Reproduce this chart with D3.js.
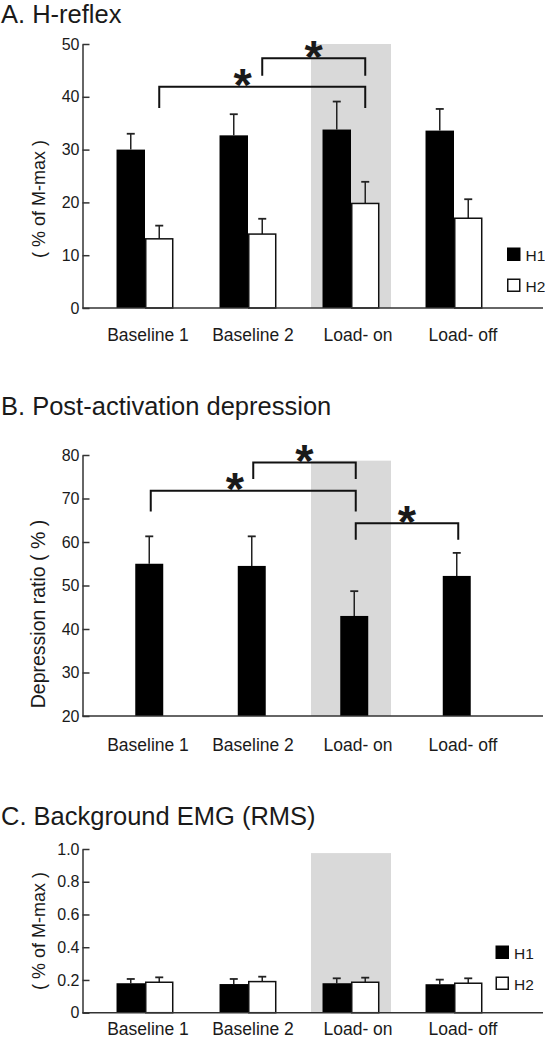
<!DOCTYPE html>
<html><head><meta charset="utf-8">
<script src="https://cdn.jsdelivr.net/npm/d3@7"></script>
<style>
body{margin:0;background:#fff}
svg{display:block}
text{font-family:"Liberation Sans",Arial,Helvetica,sans-serif;fill:#1a1a1a}
</style>
</head><body><svg id="c" width="545" height="1050"></svg>
<script>
// ---------------- data ----------------
const categories = ["Baseline 1", "Baseline 2", "Load- on", "Load- off"];
const seriesNames = ["H1", "H2"];

const hreflexH1    = [30.0, 32.7, 33.8, 33.6];
const hreflexH1Err = [3.0, 4.0, 5.3, 4.1];
const hreflexH2    = [13.1, 14.0, 19.8, 17.0];
const hreflexH2Err = [2.5, 2.9, 4.1, 3.6];
const hreflexTicks = [0, 10, 20, 30, 40, 50];

const depression      = [55.0, 54.5, 43.0, 52.2];
const depressionErr   = [6.3, 6.8, 5.7, 5.3];
const depressionTicks = [20, 30, 40, 50, 60, 70, 80];

const emgH1    = [0.180, 0.175, 0.180, 0.174];
const emgH1Err = [0.026, 0.031, 0.030, 0.028];
const emgH2    = [0.186, 0.190, 0.186, 0.180];
const emgH2Err = [0.030, 0.030, 0.028, 0.030];
const emgTicks = [0, 0.2, 0.4, 0.6, 0.8, 1.0];

// significance brackets: [from, to, bracket level, leg end] (data units)
const hreflexSig    = [["Baseline 1", "Load- on", 41.9, 37.9], ["Baseline 2", "Load- on", 47.3, 44.0]];
const depressionSig = [["Baseline 1", "Load- on", 71.8, 67.0], ["Baseline 2", "Load- on", 78.3, 74.5], ["Load- on", "Load- off", 64.3, 60.5]];

// ---------------- drawing ----------------
const svg = d3.select("#c");
const AXIS_X = 82.5, AXIS_END = 543;
const INK = "#1a1a1a";

const xGroup = d3.scaleBand().domain(categories).range([93.5, 505.5]).paddingInner(0.447).paddingOuter(0.2235);
const xSub = d3.scaleBand().domain(seriesNames).range([0, xGroup.bandwidth()]);
const xSingle = d3.scaleBand().domain(categories).range([98, 508]).paddingInner(0.727).paddingOuter(0.3635);
const xLabel = d3.scalePoint().domain(categories).range([148, 463]);

function panel(cfg) {
  const g = svg.append("g");
  const y = d3.scaleLinear().domain(cfg.domain).range([cfg.y0, cfg.yTop]);

  // title
  g.append("text").attr("x", 1).attr("y", cfg.titleY).attr("font-size", 25.5).text(cfg.title);

  // shading around Load- on
  const sc = xGroup("Load- on") + xGroup.bandwidth() / 2;
  g.append("rect").attr("x", sc - 40).attr("width", 80)
    .attr("y", y(cfg.shadeTop)).attr("height", cfg.y0 - y(cfg.shadeTop))
    .attr("fill", "#d9d9d9");

  // y axis
  const ax = g.append("g").attr("transform", `translate(${AXIS_X},0)`)
    .call(d3.axisLeft(y).tickValues(cfg.ticks).tickSize(-7).tickSizeOuter(0).tickPadding(3).tickFormat(cfg.fmt));
  ax.attr("font-family", null).attr("font-size", 16);
  ax.select(".domain").attr("stroke", "#333").attr("stroke-width", 1.5);
  ax.selectAll(".tick line").attr("stroke", "#333").attr("stroke-width", 1.5);
  ax.selectAll(".tick text").attr("font-size", 16).attr("fill", INK);

  // y label
  g.append("text").attr("transform", `translate(${cfg.ylabelX},${cfg.ylabelY}) rotate(-90)`)
    .attr("text-anchor", "middle").attr("font-size", cfg.ylabelSize).text(cfg.ylabel);

  // bars
  cfg.bars.forEach(b => {
    categories.forEach((c, i) => {
      const x0 = b.x(c), w = b.w;
      const v = b.values[i], e = b.errs[i];
      const cx = x0 + w / 2;
      g.append("line").attr("x1", cx).attr("x2", cx).attr("y1", y(v)).attr("y2", y(v + e))
        .attr("stroke", "#222").attr("stroke-width", 1.5);
      g.append("line").attr("x1", cx - 4).attr("x2", cx + 4).attr("y1", y(v + e)).attr("y2", y(v + e))
        .attr("stroke", "#222").attr("stroke-width", 1.8);
      if (b.fill === "#000") {
        g.append("rect").attr("x", x0).attr("y", y(v)).attr("width", w).attr("height", cfg.y0 - y(v)).attr("fill", "#000");
      } else {
        g.append("rect").attr("x", x0 + 0.75).attr("y", y(v)).attr("width", w - 1.5).attr("height", cfg.y0 - y(v))
          .attr("fill", "#fff").attr("stroke", "#111").attr("stroke-width", 1.5);
      }
    });
  });

  // x axis line
  g.append("line").attr("x1", AXIS_X).attr("x2", AXIS_END).attr("y1", cfg.y0).attr("y2", cfg.y0)
    .attr("stroke", "#333").attr("stroke-width", 1.5);

  // x labels
  categories.forEach(c => {
    g.append("text").attr("x", xLabel(c)).attr("y", cfg.labelY).attr("text-anchor", "middle")
      .attr("font-size", 17.5).text(c);
  });

  // brackets
  (cfg.sig || []).forEach((s, k) => {
    const x1 = cfg.sigX(s[0]), x2 = cfg.sigX(s[1]);
    g.append("path").attr("d", `M${x1},${y(s[3])}V${y(s[2])}H${x2}V${y(s[3])}`)
      .attr("fill", "none").attr("stroke", "#111").attr("stroke-width", 2);
    const f = cfg.starFrac[k];
    g.append("text").attr("x", x1 + f * (x2 - x1)).attr("y", y(s[2]) - 11.5 + 26)
      .attr("text-anchor", "middle").attr("font-size", 47).attr("font-weight", "bold").text("*");
  });

  // legend
  if (cfg.legend) {
    const L = cfg.legend;
    g.append("rect").attr("x", L.x).attr("y", L.y1).attr("width", 13.5).attr("height", 13.5).attr("fill", "#000");
    g.append("rect").attr("x", L.x + 0.75).attr("y", L.y2 + 0.75).attr("width", 12).attr("height", 12)
      .attr("fill", "#fff").attr("stroke", "#111").attr("stroke-width", 1.5);
    g.append("text").attr("x", L.x + 18.5).attr("y", L.y1 + 13).attr("font-size", 15.5).text(seriesNames[0]);
    g.append("text").attr("x", L.x + 18.5).attr("y", L.y2 + 13).attr("font-size", 15.5).text(seriesNames[1]);
  }
}

const h2Center = c => xGroup(c) + xSub("H2") + xSub.bandwidth() / 2;
const singleCenter = c => xSingle(c) + xSingle.bandwidth() / 2 + 1.5;

panel({
  title: "A. H-reflex", titleY: 23,
  domain: [0, 50], y0: 308, yTop: 44, ticks: hreflexTicks, fmt: d3.format("d"),
  ylabel: "( % of M-max )", ylabelX: 45, ylabelY: 199, ylabelSize: 18,
  shadeTop: 50, labelY: 341,
  bars: [
    {x: c => xGroup(c) + xSub("H1"), w: xSub.bandwidth(), values: hreflexH1, errs: hreflexH1Err, fill: "#000"},
    {x: c => xGroup(c) + xSub("H2"), w: xSub.bandwidth(), values: hreflexH2, errs: hreflexH2Err, fill: "#fff"}
  ],
  sig: hreflexSig, sigX: h2Center, starFrac: [0.405, 0.5],
  legend: {x: 507, y1: 247.5, y2: 278.5}
});

panel({
  title: "B. Post-activation depression", titleY: 415,
  domain: [20, 80], y0: 716, yTop: 455, ticks: depressionTicks, fmt: d3.format("d"),
  ylabel: "Depression ratio ( % )", ylabelX: 45, ylabelY: 614, ylabelSize: 19.5,
  shadeTop: 78.7, labelY: 751,
  bars: [
    {x: c => xSingle(c), w: xSingle.bandwidth(), values: depression, errs: depressionErr, fill: "#000"}
  ],
  sig: depressionSig, sigX: singleCenter, starFrac: [0.41, 0.5, 0.5]
});

panel({
  title: "C. Background EMG (RMS)", titleY: 825,
  domain: [0, 1], y0: 1012.7, yTop: 849, ticks: emgTicks, fmt: d => d === 0 ? "0" : d3.format(".1f")(d),
  ylabel: "( % of M-max )", ylabelX: 45, ylabelY: 931, ylabelSize: 18,
  shadeTop: 0.975, labelY: 1035,
  bars: [
    {x: c => xGroup(c) + xSub("H1"), w: xSub.bandwidth(), values: emgH1, errs: emgH1Err, fill: "#000"},
    {x: c => xGroup(c) + xSub("H2"), w: xSub.bandwidth(), values: emgH2, errs: emgH2Err, fill: "#fff"}
  ],
  legend: {x: 495.5, y1: 945.5, y2: 976.5}
});
</script>
</body></html>
